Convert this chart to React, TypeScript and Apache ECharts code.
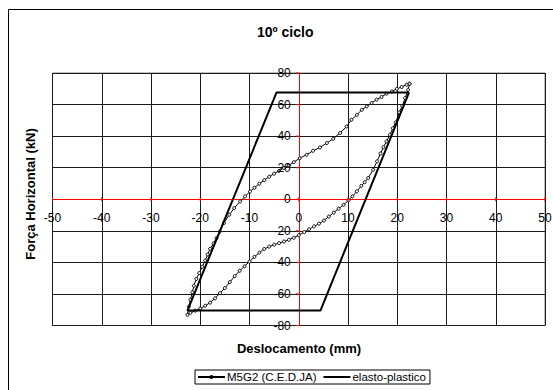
import React, { useEffect, useRef } from "react";
import * as echarts from "echarts";

const title = "10º ciclo";
const xAxisTitle = "Deslocamento (mm)";
const yAxisTitle = "Força Horizontal (kN)";
const seriesNames = ["M5G2 (C.E.D.JA)", "elasto-plastico"];

// axis ranges and tick labels
const xMin = -50, xMax = 50, xStep = 10;
const yMin = -80, yMax = 80, yStep = 20;
const xTickLabels = [-50, -40, -30, -20, -10, 0, 10, 20, 30, 40, 50];
const yTickLabels = [-80, -60, -40, -20, 0, 20, 40, 60, 80];

// M5G2 hysteresis loop: lower branch (top-right -> bottom-left), then upper branch back
const m5g2X = [
  22.5, 22.2, 21.6, 21.0, 20.4, 19.7, 19.1, 18.5, 17.8, 17.2, 16.6, 15.9, 15.1, 14.1, 13.4, 12.7, 11.8, 10.9, 10.1,
  9.1, 8.1, 7.1, 6.1, 5.1, 4.1, 3.1, 2.1, 1.1, 0.0, -1.0, -2.0, -3.0, -4.0, -5.0, -6.0, -7.0, -8.0, -9.0, -10.0,
  -11.0, -12.0, -13.0, -14.0, -15.0, -16.0, -17.0, -18.0, -19.0, -20.0, -21.0, -22.0, -22.6,
  -22.3, -22.0, -21.6, -21.3, -20.8, -20.2, -19.6, -19.0, -18.5, -18.0, -17.3, -16.7, -16.0, -15.2, -14.1, -13.1,
  -11.9, -10.9, -9.9, -9.0, -8.0, -7.0, -6.0, -5.0, -4.0, -3.0, -2.0, -1.0, 0.2, 1.6, 2.9, 4.3, 5.7, 7.0, 8.4, 9.7,
  10.7, 11.8, 12.8, 13.8, 14.8, 15.8, 16.8, 17.8, 18.9, 19.9, 20.9, 21.9, 22.5,
];
const m5g2Y = [
  73.2, 69.4, 64.1, 59.0, 55.0, 48.7, 45.0, 40.9, 36.6, 33.0, 29.0, 24.0, 18.7, 13.5, 10.8, 8.5, 5.0, 1.8, -0.7,
  -3.5, -6.0, -8.5, -11.0, -13.5, -15.5, -17.2, -19.0, -20.8, -22.8, -24.4, -25.7, -26.8, -27.8, -28.8, -30.0,
  -31.5, -33.8, -36.5, -39.5, -42.5, -45.3, -48.7, -52.5, -56.3, -59.5, -62.8, -65.5, -67.5, -69.2, -70.6, -72.0,
  -73.2,
  -68.0, -63.7, -59.0, -54.8, -50.5, -46.8, -42.8, -38.8, -35.0, -31.4, -28.0, -24.6, -20.4, -15.1, -9.8, -5.6,
  -1.4, 1.8, 4.9, 7.3, 9.9, 12.1, 14.3, 16.2, 18.0, 19.8, 21.5, 23.5, 26.0, 28.2, 30.7, 32.8, 35.6, 38.3, 42.0,
  46.1, 50.4, 53.5, 56.7, 58.8, 61.0, 63.1, 64.8, 66.9, 68.3, 70.0, 71.1, 72.6, 73.2,
];

// Elasto-plastic idealisation (closed parallelogram)
const elastoX = [22.4, -4.5, -22.6, 4.4, 22.4];
const elastoY = [67.7, 67.7, -70.5, -70.5, 67.7];

const FONT = "'Liberation Sans', Arial, sans-serif";

export default function App() {
  const ref = useRef<HTMLDivElement>(null);

  useEffect(() => {
    if (!ref.current) return;
    const chart = echarts.init(ref.current, undefined, { renderer: "svg" });
    const m5g2Data = m5g2X.map((x, i) => [x, m5g2Y[i]]);
    const elastoData = elastoX.map((x, i) => [x, elastoY[i]]);

    chart.setOption({
      animation: false,
      backgroundColor: "#fff",
      textStyle: { fontFamily: FONT },
      title: {
        text: title,
        left: 257,
        top: 25,
        padding: 0,
        textStyle: { fontFamily: FONT, fontSize: 14, fontWeight: "bold", color: "#000" },
      },
      legend: {
        left: 195,
        top: 370,
        padding: [1, 4, 1, 2],
        itemGap: 6,
        itemWidth: 27,
        itemHeight: 5,
        borderColor: "#000",
        borderWidth: 1,
        borderRadius: 0,
        textStyle: { fontFamily: FONT, fontSize: 11.5, color: "#000", padding: [0, 0, 0, -3] },
        data: [
          { name: seriesNames[0], itemStyle: { color: "#000", borderWidth: 0 } },
          { name: seriesNames[1], itemStyle: { opacity: 0 } },
        ],
      },
      grid: {
        left: 52.5,
        top: 73,
        width: 492.5,
        height: 252.5,
        show: true,
        borderColor: "#808080",
        borderWidth: 1,
        backgroundColor: "transparent",
      },
      xAxis: {
        type: "value",
        min: xMin,
        max: xMax,
        interval: xStep,
        axisLine: { onZero: true, lineStyle: { color: "#ff0000", width: 1 } },
        axisTick: { show: false },
        axisLabel: { show: false },
        splitLine: { show: true, lineStyle: { color: "#1a1a1a", width: 1 } },
      },
      yAxis: {
        type: "value",
        min: yMin,
        max: yMax,
        interval: yStep,
        axisLine: { onZero: true, lineStyle: { color: "#ff0000", width: 1 } },
        axisTick: { show: false },
        axisLabel: { show: false },
        splitLine: { show: true, lineStyle: { color: "#1a1a1a", width: 1 } },
      },
      series: [
        {
          name: seriesNames[0],
          type: "line",
          data: m5g2Data,
          showAllSymbol: true,
          symbol: "circle",
          symbolSize: 3,
          lineStyle: { color: "#000", width: 1 },
          itemStyle: { color: "#fff", borderColor: "#000", borderWidth: 1 },
          z: 3,
        },
        {
          name: seriesNames[1],
          type: "line",
          data: elastoData,
          showSymbol: false,
          symbol: "none",
          lineStyle: { color: "#000", width: 2 },
          itemStyle: { color: "#000" },
          z: 4,
        },
      ],
    });

    // Tick labels and tick marks placed along the zero axes through the chart's own scales
    const toPx = (x: number, y: number) =>
      chart.convertToPixel({ xAxisIndex: 0, yAxisIndex: 0 }, [x, y]) as number[];
    const graphics: any[] = [
      {
        type: "rect",
        shape: { x: 8.5, y: 9.5, width: 600, height: 400 },
        style: { fill: "none", stroke: "#000", lineWidth: 1 },
        silent: true,
      },
      {
        type: "text",
        x: 299,
        y: 348,
        style: {
          text: xAxisTitle,
          font: `bold 13px ${FONT}`,
          fill: "#000",
          align: "center",
          verticalAlign: "middle",
        },
      },
      {
        type: "text",
        x: 30,
        y: 194,
        rotation: Math.PI / 2,
        style: {
          text: yAxisTitle,
          font: `bold 13px ${FONT}`,
          fill: "#000",
          align: "center",
          verticalAlign: "middle",
        },
      },
    ];
    xTickLabels.forEach((v) => {
      const [px, py] = toPx(v, 0);
      graphics.push({
        type: "line",
        shape: { x1: px, y1: py - 2, x2: px, y2: py + 2 },
        style: { stroke: "#ff0000", lineWidth: 1 },
        z: 10,
      });
      graphics.push({
        type: "text",
        x: px,
        y: py + 13,
        style: {
          text: String(v),
          font: `12px ${FONT}`,
          fill: "#000",
          align: "center",
          verticalAlign: "top",
        },
        z: 10,
      });
    });
    yTickLabels.forEach((v) => {
      const [px, py] = toPx(0, v);
      graphics.push({
        type: "line",
        shape: { x1: px - 3, y1: py, x2: px, y2: py },
        style: { stroke: "#ff0000", lineWidth: 1 },
        z: 10,
      });
      graphics.push({
        type: "text",
        x: px - 8,
        y: py,
        style: {
          text: String(v),
          font: `12px ${FONT}`,
          fill: "#000",
          align: "right",
          verticalAlign: "middle",
        },
        z: 10,
      });
    });
    chart.setOption({ graphic: graphics });

    return () => chart.dispose();
  }, []);

  return (
    <div
      ref={ref}
      style={{ position: "fixed", left: 0, top: 0, width: 553, height: 390 }}
    />
  );
}
